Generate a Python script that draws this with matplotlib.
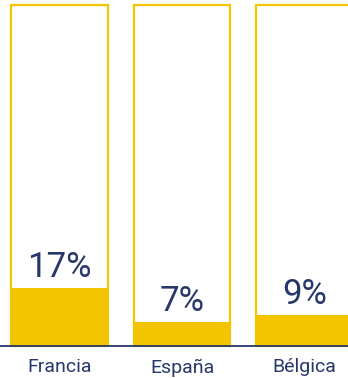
import matplotlib.pyplot as plt

paises = ["Francia", "España", "Bélgica"]
porcentajes = [17, 7, 9]

AMARILLO = "#F3C400"
AZUL = "#27376A"

plt.rcParams["font.family"] = ["Roboto", "DejaVu Sans"]

fig = plt.figure(figsize=(3.48, 3.78), dpi=100)
ax = fig.add_axes([0, 32 / 378, 1, 341 / 378])

x = range(len(paises))
ancho = 0.79

# marco del 100% y relleno con el valor de cada país
ax.bar(x, [100] * len(paises), width=ancho, facecolor="white",
       edgecolor=AMARILLO, linewidth=1.6, clip_on=False, zorder=1)
ax.bar(x, porcentajes, width=ancho, color=AMARILLO, linewidth=0, zorder=2)

for xi, v in zip(x, porcentajes):
    ax.annotate(f"{v}%", (xi, v), xytext=(0, 3), textcoords="offset points",
                ha="center", va="bottom", fontsize=25, color=AZUL)

ax.axhline(0, color=AZUL, linewidth=1.3, zorder=3, clip_on=False)

ax.set_xlim(-59.5 / 122.5, (348 - 59.5) / 122.5)
ax.set_ylim(0, 100)
ax.set_xticks(list(x))
ax.set_xticklabels(paises, fontsize=14, color=AZUL)
ax.tick_params(axis="x", length=0, pad=9)
ax.set_yticks([])
for s in ax.spines.values():
    s.set_visible(False)

fig.savefig("out.png", dpi=100)
